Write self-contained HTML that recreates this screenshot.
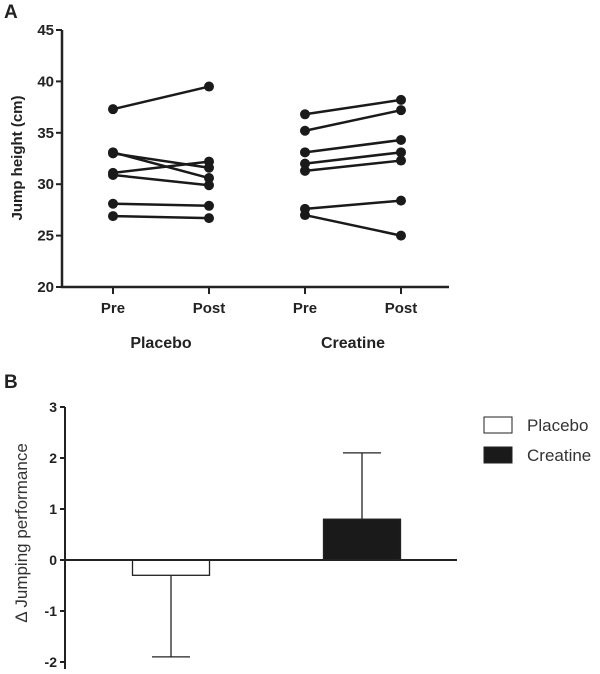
<!DOCTYPE html>
<html><head><meta charset="utf-8"><style>
body{margin:0;background:#fff;}
svg{font-family:"Liberation Sans",sans-serif;}
</style></head><body>
<svg width="600" height="669" viewBox="0 0 600 669">
<text x="4" y="18" font-size="19" font-weight="bold" fill="#222">A</text>
<g id="chartA"></g>
<text x="4" y="388" font-size="19" font-weight="bold" fill="#222">B</text>
<g id="chartB"></g>
</svg>
<script>
const ticksA=[20,25,30,35,40,45];
const xCatsA=["Pre","Post","Pre","Post"];
const groupsA=["Placebo","Creatine"];
const placeboPre=[37.3,33.1,33.0,31.1,30.9,28.1,26.9];
const placeboPost=[39.5,30.6,31.6,32.2,29.9,27.9,26.7];
const creatinePre=[36.8,35.2,33.1,32.0,31.3,27.6,27.0];
const creatinePost=[38.2,37.2,34.3,33.1,32.3,28.4,25.0];
const ticksB=[-2,-1,0,1,2,3];
const catsB=["Placebo","Creatine"];
const meansB=[-0.3,0.8];
const errB=[-1.9,2.1];
const NS="http://www.w3.org/2000/svg";
function mk(p,t,a){const e=document.createElementNS(NS,t);for(const k in a)e.setAttribute(k,a[k]);p.appendChild(e);return e;}
// Chart A
const A=document.getElementById('chartA');
const yA=v=>287-(v-20)*(257/25);
const xA=i=>113+i*96;
let ax=mk(A,'line',{x1:62,y1:30,x2:62,y2:287,stroke:'#222','stroke-width':2.5});

ax=mk(A,'line',{x1:61,y1:287,x2:449,y2:287,stroke:'#222','stroke-width':2.5});

ticksA.forEach(t=>{
 const l=mk(A,'line',{x1:56,y1:yA(t),x2:62,y2:yA(t),stroke:'#222','stroke-width':2});
 
 const tx=mk(A,'text',{x:54,y:yA(t)+5,'text-anchor':'end','font-size':15,'font-weight':'bold',fill:'#222'});tx.textContent=t;
 
});
xCatsA.forEach((c,i)=>{
 const l=mk(A,'line',{x1:xA(i),y1:287,x2:xA(i),y2:294,stroke:'#222','stroke-width':2});
 
 const tx=mk(A,'text',{x:xA(i),y:313,'text-anchor':'middle','font-size':15,'font-weight':'bold',fill:'#222'});tx.textContent=c;
 
});
groupsA.forEach((g,i)=>{
 const tx=mk(A,'text',{x:(xA(2*i)+xA(2*i+1))/2,y:348,'text-anchor':'middle','font-size':16,'font-weight':'bold',fill:'#222'});tx.textContent=g;
 
});
let yl=mk(A,'text',{x:0,y:0,transform:'translate(22,158) rotate(-90)','text-anchor':'middle','font-size':15,'font-weight':'bold',fill:'#222'});yl.textContent='Jump height (cm)';

function series(pre,post,i0,name){
 pre.forEach((v,k)=>{
  const l=mk(A,'line',{x1:xA(i0),y1:yA(v),x2:xA(i0+1),y2:yA(post[k]),stroke:'#1a1a1a','stroke-width':2.5});
  
  const c1=mk(A,'circle',{cx:xA(i0),cy:yA(v),r:5,fill:'#1a1a1a'});
  
  const c2=mk(A,'circle',{cx:xA(i0+1),cy:yA(post[k]),r:5,fill:'#1a1a1a'});
  
 });
}
series(placeboPre,placeboPost,0,'placebo');
series(creatinePre,creatinePost,2,'creatine');
// Chart B
const B=document.getElementById('chartB');
const yB=v=>560-v*51;
const xB=[171,362];const bw=77;
ax=mk(B,'line',{x1:65,y1:yB(3),x2:65,y2:669,stroke:'#222','stroke-width':2});

ticksB.forEach(t=>{
 const l=mk(B,'line',{x1:60,y1:yB(t),x2:65,y2:yB(t),stroke:'#222','stroke-width':2});
 
 const tx=mk(B,'text',{x:57,y:yB(t)+5,'text-anchor':'end','font-size':14,'font-weight':'bold',fill:'#222'});tx.textContent=t;
 
});
yl=mk(B,'text',{x:0,y:0,transform:'translate(27,533) rotate(-90)','text-anchor':'middle','font-size':17,fill:'#333'});yl.textContent='Δ Jumping performance';

catsB.forEach((c,i)=>{
 const m=meansB[i],cx=xB[i];
 const e=mk(B,'line',{x1:cx,y1:yB(m),x2:cx,y2:yB(errB[i]),stroke:'#222','stroke-width':1.3});
 
 const cap=mk(B,'line',{x1:cx-19,y1:yB(errB[i]),x2:cx+19,y2:yB(errB[i]),stroke:'#222','stroke-width':1.3});
 
 const r=mk(B,'rect',{x:cx-bw/2,y:Math.min(yB(m),yB(0)),width:bw,height:Math.abs(yB(m)-yB(0)),fill:i?'#1a1a1a':'#fff',stroke:'#222','stroke-width':1.3});
 
});
ax=mk(B,'line',{x1:65,y1:yB(0),x2:457,y2:yB(0),stroke:'#222','stroke-width':2});

catsB.forEach((c,i)=>{
 const y=417+i*30;
 const r=mk(B,'rect',{x:484,y:y,width:28,height:16,fill:i?'#1a1a1a':'#fff',stroke:'#222','stroke-width':1});
 
 const tx=mk(B,'text',{x:527,y:y+14,'font-size':17,fill:'#333'});tx.textContent=c;
 
});
</script>
</body></html>
